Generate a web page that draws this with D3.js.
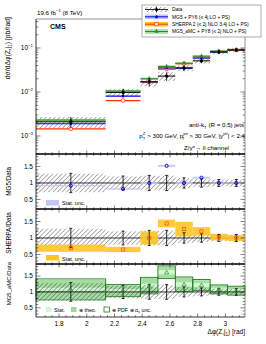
<!DOCTYPE html>
<html><head><meta charset="utf-8">
<script src="https://cdn.jsdelivr.net/npm/d3@7"></script>
<style>body{margin:0;background:#fff}svg{font-family:"Liberation Sans",Arial,sans-serif}</style>
</head><body><svg id="c" width="266" height="344"></svg>
<script>
// ---------- data ----------
const binEdges = [0.52, 0.68, 0.76, 0.80, 0.84, 0.88, 0.92, 0.96, 1.00].map(f => f * Math.PI);
const dataXs   = [0.0021, 0.0098, 0.017, 0.023, 0.035, 0.051, 0.081, 0.090];
const dataErr  = [0.28, 0.20, 0.22, 0.22, 0.15, 0.12, 0.10, 0.10];   // relative
const mg5Xs    = [0.0019, 0.0081, 0.017, 0.035, 0.035, 0.059, 0.081, 0.090];
const sherpaXs = [0.00145, 0.0064, 0.017, 0.033, 0.044, 0.061, 0.083, 0.090];
const amcXs    = [0.0023, 0.0105, 0.020, 0.038, 0.045, 0.065, 0.085, 0.092];
const mg5Ratio    = [0.92, 0.82, 1.00, 1.52, 1.00, 1.16, 1.00, 1.00];
const mg5Stat     = [0.02, 0.02, 0.03, 0.03, 0.03, 0.03, 0.02, 0.02];
const sherpaRatio = [0.69, 0.65, 1.00, 1.44, 1.27, 1.20, 1.03, 1.00];
const sherpaStat  = [0.11, 0.08, 0.20, 0.12, 0.22, 0.13, 0.10, 0.09];
const amcRatio    = [1.08, 1.04, 1.20, 1.62, 1.24, 1.22, 1.08, 1.04];
const amcStat     = [0.05, 0.05, 0.06, 0.07, 0.07, 0.06, 0.05, 0.05];
const amcTheo     = [0.30, 0.17, 0.24, 0.18, 0.21, 0.15, 0.13, 0.13];
const amcPdf      = [0.33, 0.19, 0.26, 0.20, 0.23, 0.17, 0.14, 0.14];
const xTicks = [1.8, 2.0, 2.2, 2.4, 2.6, 2.8, 3.0];
const xTickLabels = ["1.8", "2", "2.2", "2.4", "2.6", "2.8", "3"];
const yTopTicks = [1e-3, 1e-2, 1e-1];
const yTopTickLabels = ["10", "10", "10"];
const yTopTickExp = ["−3", "−2", "−1"];
const ratioTicks = [0.5, 1, 1.5];
const legendLabels = ["Data", "MG5 + PY6 (≤ 4j LO + PS)", "SHERPA 2 (≤ 2j NLO 3,4j LO + PS)", "MG5_aMC + PY8 (≤ 2j NLO + PS)"];

// ---------- layout ----------
const L = 36, R = 245;
const topY = [19, 154], p1 = [154, 209], p2 = [209, 264], p3 = [264, 317];
const cBlue = "#0000ee", cBlueBand = "#c4c4f6";
const cRed = "#ff3300", cOrange = "#ffc526";
const cGreen = "#2e8b2e", cGreenL = "#d2f7d2", cGreenM = "#9ad89a";

const svg = d3.select("#c");
const defs = svg.append("defs");
const pat = defs.append("pattern").attr("id", "hatch").attr("patternUnits", "userSpaceOnUse")
  .attr("width", 3.2).attr("height", 3.2).attr("patternTransform", "rotate(45)");
pat.append("line").attr("x1", 0).attr("y1", 0).attr("x2", 0).attr("y2", 3.2)
  .attr("stroke", "#222").attr("stroke-width", 0.7);

const x = d3.scaleLinear().domain([binEdges[0], binEdges[binEdges.length - 1]]).range([L, R]);
const yTop = d3.scaleLog().domain([3.9e-4, 0.456]).range([topY[1], topY[0]]);
const rDom = [0.21, 1.88];
const y1 = d3.scaleLinear().domain(rDom).range([p1[1], p1[0]]);
const y2 = d3.scaleLinear().domain(rDom).range([p2[1], p2[0]]);
const y3 = d3.scaleLinear().domain(rDom).range([p3[1], p3[0]]);

const bins = d3.range(dataXs.length).map(i => ({
  i, x0: binEdges[i], x1: binEdges[i + 1], xc: (binEdges[i] + binEdges[i + 1]) / 2
}));

// ---------- top panel ----------
const gTop = svg.append("g");
gTop.selectAll(".dh").data(bins).join("rect")
  .attr("x", d => x(d.x0)).attr("width", d => x(d.x1) - x(d.x0))
  .attr("y", d => yTop(dataXs[d.i] * (1 + dataErr[d.i])))
  .attr("height", d => yTop(dataXs[d.i] * (1 - dataErr[d.i])) - yTop(dataXs[d.i] * (1 + dataErr[d.i])))
  .attr("fill", "url(#hatch)");
gTop.selectAll(".gb").data(bins).join("rect")
  .attr("x", d => x(d.x0)).attr("width", d => x(d.x1) - x(d.x0))
  .attr("y", d => yTop(amcXs[d.i] * 1.06)).attr("height", d => yTop(amcXs[d.i] * 0.94) - yTop(amcXs[d.i] * 1.06))
  .attr("fill", "#88cc88").attr("opacity", 0.8);
function hline(g, arr, color, w) {
  g.selectAll(null).data(bins).join("line")
    .attr("x1", d => x(d.x0)).attr("x2", d => x(d.x1))
    .attr("y1", d => yTop(arr[d.i])).attr("y2", d => yTop(arr[d.i]))
    .attr("stroke", color).attr("stroke-width", w);
}
hline(gTop, amcXs, cGreen, 1);
hline(gTop, mg5Xs, cBlue, 1.2);
hline(gTop, sherpaXs, cRed, 1.2);
hline(gTop, dataXs, "#000", 1);
gTop.selectAll(null).data(bins).join("circle")
  .attr("cx", d => x(d.xc)).attr("cy", d => yTop(sherpaXs[d.i])).attr("r", 1.8)
  .attr("fill", "#fff").attr("stroke", cRed).attr("stroke-width", 0.8);
gTop.selectAll(null).data(bins).join("circle")
  .attr("cx", d => x(d.xc)).attr("cy", d => yTop(mg5Xs[d.i])).attr("r", 1.5)
  .attr("fill", cBlue);
gTop.selectAll(null).data(bins).join("path")
  .attr("transform", d => `translate(${x(d.xc)},${yTop(amcXs[d.i])})`)
  .attr("d", d3.symbol(d3.symbolTriangle, 9)).attr("fill", cGreen);
gTop.selectAll(null).data(bins).join("line")
  .attr("x1", d => x(d.xc)).attr("x2", d => x(d.xc))
  .attr("y1", d => yTop(dataXs[d.i] * (1 + dataErr[d.i]))).attr("y2", d => yTop(dataXs[d.i] * (1 - dataErr[d.i])))
  .attr("stroke", "#000").attr("stroke-width", 0.8);
gTop.selectAll(null).data(bins).join("circle")
  .attr("cx", d => x(d.xc)).attr("cy", d => yTop(dataXs[d.i])).attr("r", 1.7).attr("fill", "#000");

// ---------- ratio panels ----------
function ratioBase(g, y) {
  g.selectAll(null).data(bins).join("rect")
    .attr("x", d => x(d.x0)).attr("width", d => x(d.x1) - x(d.x0))
    .attr("y", d => y(1 + dataErr[d.i])).attr("height", d => y(1 - dataErr[d.i]) - y(1 + dataErr[d.i]))
    .attr("fill", "url(#hatch)");
  g.append("line").attr("x1", L).attr("x2", R).attr("y1", y(1)).attr("y2", y(1))
    .attr("stroke", "#000").attr("stroke-width", 0.8);
}
function dataBars(g, y) {
  g.selectAll(null).data(bins).join("path")
    .attr("d", d => {
      const cx = x(d.xc), a = y(1 + dataErr[d.i] * 1.05), b = y(1 - dataErr[d.i] * 1.05);
      return `M${cx},${a}V${b}M${cx - 1.5},${a}H${cx + 1.5}M${cx - 1.5},${b}H${cx + 1.5}`;
    })
    .attr("stroke", "#000").attr("stroke-width", 0.8).attr("fill", "none");
}
function band(g, y, r, e, fill, op) {
  g.selectAll(null).data(bins).join("rect")
    .attr("x", d => x(d.x0)).attr("width", d => x(d.x1) - x(d.x0))
    .attr("y", d => y(r[d.i] + e[d.i])).attr("height", d => y(r[d.i] - e[d.i]) - y(r[d.i] + e[d.i]))
    .attr("fill", fill).attr("opacity", op || 1);
}
const g1 = svg.append("g");
ratioBase(g1, y1);
band(g1, y1, mg5Ratio, mg5Stat, cBlueBand, 0.9);
dataBars(g1, y1);
g1.selectAll(null).data(bins).join("circle")
  .attr("cx", d => x(d.xc)).attr("cy", d => y1(mg5Ratio[d.i])).attr("r", 1.6)
  .attr("fill", "none").attr("stroke", cBlue).attr("stroke-width", 0.9);
const g2 = svg.append("g");
ratioBase(g2, y2);
band(g2, y2, sherpaRatio, sherpaStat, cOrange, 0.9);
dataBars(g2, y2);
g2.selectAll(null).data(bins).join("rect")
  .attr("x", d => x(d.xc) - 1.6).attr("y", d => y2(sherpaRatio[d.i]) - 1.6).attr("width", 3.2).attr("height", 3.2)
  .attr("fill", "none").attr("stroke", "#ff5a00").attr("stroke-width", 0.8);
const g3 = svg.append("g");
g3.selectAll(null).data(bins).join("rect")
  .attr("x", d => x(d.x0)).attr("width", d => x(d.x1) - x(d.x0))
  .attr("y", d => y3(amcRatio[d.i] + amcPdf[d.i])).attr("height", d => y3(amcRatio[d.i] - amcPdf[d.i]) - y3(amcRatio[d.i] + amcPdf[d.i]))
  .attr("fill", "#fff");
band(g3, y3, amcRatio, amcTheo, cGreenM, 0.9);
band(g3, y3, amcRatio, amcStat, cGreenL, 1);
ratioBase(g3, y3);
g3.selectAll(null).data(bins).join("rect")
  .attr("x", d => x(d.x0)).attr("width", d => x(d.x1) - x(d.x0))
  .attr("y", d => y3(amcRatio[d.i] + amcPdf[d.i])).attr("height", d => y3(amcRatio[d.i] - amcPdf[d.i]) - y3(amcRatio[d.i] + amcPdf[d.i]))
  .attr("fill", "none").attr("stroke", "#1e7a1e").attr("stroke-width", 0.9);
dataBars(g3, y3);
g3.selectAll(null).data(bins).join("path")
  .attr("transform", d => `translate(${x(d.xc)},${y3(amcRatio[d.i]) + 0.5})`)
  .attr("d", d3.symbol(d3.symbolTriangle, 8)).attr("fill", "none").attr("stroke", cGreen).attr("stroke-width", 0.7);

// ---------- axes ----------
const axG = svg.append("g").attr("font-size", 6.5);
function xTicksAt(y0, dir, big, small) {
  const minor = d3.range(1.7, 3.14, 0.05);
  axG.selectAll(null).data(minor).join("line")
    .attr("x1", d => x(d)).attr("x2", d => x(d)).attr("y1", y0)
    .attr("y2", d => y0 + dir * (Math.abs(d * 10 - Math.round(d * 5) * 2) < 0.01 ? big : small))
    .attr("stroke", "#000").attr("stroke-width", 0.5);
}
[topY[1], p1[1], p2[1], p3[1]].forEach(y0 => xTicksAt(y0, -1, 3.5, 1.8));
[p1[0], p2[0], p3[0]].forEach(y0 => xTicksAt(y0, 1, 3.5, 1.8));
axG.selectAll(null).data(xTicks).join("text")
  .attr("x", (d) => x(d)).attr("y", 326).attr("text-anchor", "middle")
  .text((d, i) => xTickLabels[i]);
axG.append("text").attr("x", R).attr("y", 334).attr("text-anchor", "end").attr("font-size", 6.5)
  .html("Δφ(Z,j<tspan font-size='4.5' dy='1.5'>1</tspan><tspan dy='-1.5'>) [rad]</tspan>");

const minorLog = [];
for (let e = -4; e <= -1; e++) for (let k = 1; k <= 9; k++) { const v = k * Math.pow(10, e); if (v > 3.9e-4 && v < 0.456) minorLog.push(v); }
[[L, 1], [R, -1]].forEach(([x0, dir]) => {
  axG.selectAll(null).data(minorLog).join("line")
    .attr("x1", x0).attr("x2", d => x0 + dir * (Math.abs(Math.log10(d) - Math.round(Math.log10(d))) < 1e-6 ? 4.5 : 2.3))
    .attr("y1", d => yTop(d)).attr("y2", d => yTop(d)).attr("stroke", "#000").attr("stroke-width", 0.5);
});
yTopTicks.forEach((v, i) => {
  const t = axG.append("text").attr("x", L - 3).attr("y", yTop(v) + 2.2).attr("text-anchor", "end");
  t.append("tspan").text(yTopTickLabels[i]);
  t.append("tspan").attr("font-size", 4.3).attr("dy", -2.8).text(yTopTickExp[i]);
});
[[y1, p1], [y2, p2], [y3, p3]].forEach(([y, p]) => {
  const mt = d3.range(0.3, 1.85, 0.1);
  [[L, 1], [R, -1]].forEach(([x0, dir]) => {
    axG.selectAll(null).data(mt).join("line")
      .attr("x1", x0).attr("x2", d => x0 + dir * (Math.abs(d * 2 - Math.round(d * 2)) < 0.01 ? 4.5 : 2.3))
      .attr("y1", d => y(d)).attr("y2", d => y(d)).attr("stroke", "#000").attr("stroke-width", 0.5);
  });
  axG.selectAll(null).data(ratioTicks).join("text")
    .attr("x", L - 3).attr("y", d => y(d) + 2.3).attr("text-anchor", "end").text(d => d);
});
svg.append("line").attr("x1", L).attr("x2", L).attr("y1", topY[0]).attr("y2", p3[1]).attr("stroke", "#000").attr("stroke-width", 0.8);
svg.append("line").attr("x1", R).attr("x2", R).attr("y1", topY[0]).attr("y2", p3[1]).attr("stroke", "#777").attr("stroke-width", 0.8);
svg.append("line").attr("x1", L).attr("x2", R).attr("y1", topY[0]).attr("y2", topY[0]).attr("stroke", "#777").attr("stroke-width", 0.8);
[topY[1], p1[1], p2[1]].forEach(yy => svg.append("line").attr("x1", L).attr("x2", R).attr("y1", yy).attr("y2", yy).attr("stroke", "#000").attr("stroke-width", 1.3));
svg.append("line").attr("x1", L).attr("x2", R).attr("y1", p3[1]).attr("y2", p3[1]).attr("stroke", "#000").attr("stroke-width", 0.8);

// ---------- titles ----------
svg.append("text").attr("x", 37).attr("y", 15).attr("font-size", 6.2).html("19.6 fb<tspan font-size='4.3' dy='-2.6'>−1</tspan><tspan dy='2.6'> (8 TeV)</tspan>");
svg.append("text").attr("x", 50).attr("y", 29).attr("font-size", 7).attr("font-weight", "bold").text("CMS");
svg.append("text").attr("transform", "translate(10,17) rotate(-90)").attr("text-anchor", "end").attr("font-size", 6.8)
  .html("dσ/dΔφ(Z,j<tspan font-size='4.6' dy='1.5'>1</tspan><tspan dy='-1.5'>)  [pb/rad]</tspan>");
svg.append("text").attr("transform", "translate(11,167) rotate(-90)").attr("text-anchor", "end").attr("font-size", 6.3).text("MG5/Data");
svg.append("text").attr("transform", "translate(11,212) rotate(-90)").attr("text-anchor", "end").attr("font-size", 6.5).text("SHERPA/Data");
svg.append("text").attr("transform", "translate(11,262) rotate(-90)").attr("text-anchor", "end").attr("font-size", 6.0).text("MG5_aMC/Data");
const info = svg.append("g").attr("font-size", 6.2).attr("text-anchor", "end");
info.append("text").attr("x", 244).attr("y", 127).html("anti-k<tspan font-size='4.3' dy='1.5'>T</tspan><tspan dy='-1.5'> (R = 0.5) jets</tspan>");
info.append("text").attr("x", 245).attr("y", 138).html("p<tspan font-size='4.3' dy='-2.6'>Z</tspan><tspan font-size='4.3' dx='-2.6' dy='4.6'>T</tspan><tspan dy='-2'> &gt; 300 GeV, p</tspan><tspan font-size='4.3' dy='-2.6'>jet</tspan><tspan font-size='4.3' dx='-6' dy='4.6'>T</tspan><tspan dx='3.2' dy='-2'> &gt; 30 GeV, |y</tspan><tspan font-size='4.3' dy='-2.6'>jet</tspan><tspan dy='2.6'>| &lt; 2.4</tspan>");
info.append("text").attr("x", 229).attr("y", 149.5).text("Z/γ*→ ll channel");

svg.append("rect").attr("x", 46).attr("y", 200).attr("width", 13).attr("height", 5.5).attr("fill", cBlueBand);
svg.append("text").attr("x", 62).attr("y", 205).attr("font-size", 5.5).text("Stat. unc.");
svg.append("rect").attr("x", 46).attr("y", 255).attr("width", 13).attr("height", 5.5).attr("fill", cOrange);
svg.append("text").attr("x", 62).attr("y", 260.5).attr("font-size", 5.5).text("Stat. unc.");
const lg3 = svg.append("g").attr("font-size", 5.3);
lg3.append("rect").attr("x", 46).attr("y", 307).attr("width", 5.5).attr("height", 5).attr("fill", cGreenL);
lg3.append("text").attr("x", 54).attr("y", 312).text("Stat.");
lg3.append("rect").attr("x", 71).attr("y", 307).attr("width", 5.5).attr("height", 5).attr("fill", cGreenM);
lg3.append("text").attr("x", 79).attr("y", 312).text("⊕ theo.");
lg3.append("rect").attr("x", 104).attr("y", 307).attr("width", 5.5).attr("height", 5).attr("fill", "#fff").attr("stroke", "#1e7a1e").attr("stroke-width", 0.8);
lg3.append("text").attr("x", 112).attr("y", 312).html("⊕ PDF ⊕ α<tspan font-size='3.8' dy='1.2'>s</tspan><tspan dy='-1.2'> unc.</tspan>");

// ---------- legend ----------
const lg = svg.append("g");
lg.append("rect").attr("x", 142).attr("y", 5).attr("width", 119).attr("height", 32).attr("fill", "#fff").attr("stroke", "#777").attr("stroke-width", 0.6);
const rowsY = [9.5, 16.8, 24.2, 31.5];
const sx0 = 145, sx1 = 168, sxc = 156.5;
lg.append("rect").attr("x", sx0).attr("y", rowsY[0] - 2.5).attr("width", sx1 - sx0).attr("height", 5).attr("fill", "url(#hatch)");
lg.append("line").attr("x1", sx0).attr("x2", sx1).attr("y1", rowsY[0]).attr("y2", rowsY[0]).attr("stroke", "#000").attr("stroke-width", 0.8);
lg.append("line").attr("x1", sxc).attr("x2", sxc).attr("y1", rowsY[0] - 3).attr("y2", rowsY[0] + 3).attr("stroke", "#000").attr("stroke-width", 0.8);
lg.append("circle").attr("cx", sxc).attr("cy", rowsY[0]).attr("r", 1.5).attr("fill", "#000");
const rowsCfg = [
  { band: cBlueBand, line: cBlue, mk: "circle" },
  { band: cOrange, line: cRed, mk: "square" },
  { band: "#a8dca8", line: cGreen, mk: "triangle" }
];
rowsCfg.forEach((c, k) => {
  const yy = rowsY[k + 1];
  lg.append("rect").attr("x", sx0).attr("y", yy - 2.3).attr("width", sx1 - sx0).attr("height", 4.6).attr("fill", c.band);
  lg.append("line").attr("x1", sx0).attr("x2", sx1).attr("y1", yy).attr("y2", yy).attr("stroke", c.line).attr("stroke-width", 1);
  if (c.mk === "circle") lg.append("circle").attr("cx", sxc).attr("cy", yy).attr("r", 1.5).attr("fill", c.line);
  if (c.mk === "square") lg.append("rect").attr("x", sxc - 1.6).attr("y", yy - 1.6).attr("width", 3.2).attr("height", 3.2).attr("fill", "#fff").attr("stroke", c.line).attr("stroke-width", 0.7);
  if (c.mk === "triangle") lg.append("path").attr("transform", `translate(${sxc},${yy})`).attr("d", d3.symbol(d3.symbolTriangle, 9)).attr("fill", c.line);
});
lg.selectAll(null).data(legendLabels).join("text")
  .attr("x", 172).attr("y", (d, i) => rowsY[i] + 1.8).attr("font-size", 4.9).text(d => d);
</script></body></html>
